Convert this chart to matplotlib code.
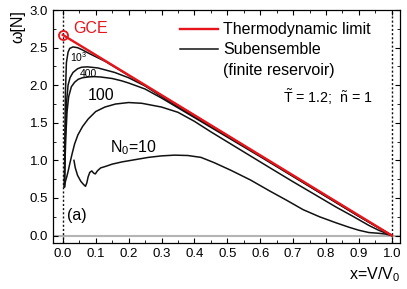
import matplotlib
matplotlib.use("Agg")
import matplotlib.pyplot as plt
from matplotlib.lines import Line2D
from matplotlib.ticker import MultipleLocator

RED = "#e8141b"; INK = "#111111"; GREY = "#b4b4b4"

plt.rcParams.update({
    "font.family": "Liberation Sans", "mathtext.fontset": "custom",
    "mathtext.rm": "Liberation Sans", "mathtext.it": "Liberation Sans",
    "font.size": 9.5, "axes.linewidth": 0.9,
    "xtick.direction": "in", "ytick.direction": "in",
    "xtick.top": True, "ytick.right": True,
    "xtick.major.size": 3.5, "ytick.major.size": 3.5,
    "xtick.minor.size": 2, "ytick.minor.size": 2,
    "xtick.minor.visible": True, "ytick.minor.visible": True,
})

# thermodynamic limit (straight line from the GCE point to x = 1)
x_td = [0.0, 1.0]
w_td = [2.67, 0.0]

# subensemble curves
x_top = [0.005, 0.006, 0.008, 0.011, 0.016, 0.021, 0.031, 0.045, 0.06, 0.077, 0.1, 0.128,
         0.2, 0.4, 0.6, 0.8, 0.9, 1.0]
w_top = [0.65, 1.2, 1.9, 2.3, 2.44, 2.49, 2.51, 2.50, 2.47, 2.43, 2.38, 2.32,
         2.13, 1.60, 1.06, 0.53, 0.26, 0.0]

x_1e3 = [0.005, 0.006, 0.009, 0.012, 0.016, 0.022, 0.031, 0.045, 0.057, 0.075, 0.107, 0.158,
         0.2, 0.25, 0.3, 0.4, 0.5, 0.6, 0.8, 0.9, 1.0]
w_1e3 = [0.65, 0.9, 1.5, 1.8, 2.0, 2.1, 2.17, 2.22, 2.24, 2.245, 2.23, 2.17,
         2.1, 1.99, 1.85, 1.58, 1.32, 1.06, 0.52, 0.255, 0.0]

x_400 = [0.005, 0.006, 0.009, 0.013, 0.018, 0.026, 0.036, 0.047, 0.06, 0.077, 0.095, 0.115,
         0.15, 0.178, 0.2, 0.25, 0.3, 0.4, 0.5, 0.6, 0.8, 0.9, 1.0]
w_400 = [0.65, 0.85, 1.3, 1.65, 1.85, 1.98, 2.04, 2.08, 2.1, 2.11, 2.115, 2.11,
         2.09, 2.06, 2.03, 1.95, 1.83, 1.57, 1.31, 1.05, 0.52, 0.255, 0.0]

x_100 = [0.005, 0.008, 0.012, 0.016, 0.022, 0.029, 0.036, 0.046, 0.06, 0.077, 0.1, 0.128,
         0.16, 0.2, 0.24, 0.3, 0.35, 0.4, 0.45, 0.51, 0.57, 0.63, 0.7, 0.77, 0.83, 0.88,
         0.93, 0.96, 0.98, 1.0]
w_100 = [0.65, 0.72, 0.78, 0.85, 0.97, 1.1, 1.22, 1.34, 1.45, 1.55, 1.65, 1.71,
         1.75, 1.77, 1.76, 1.71, 1.64, 1.52, 1.38, 1.22, 1.06, 0.90, 0.715, 0.535, 0.38, 0.26,
         0.135, 0.07, 0.035, 0.0]

x_10 = [0.034, 0.038, 0.045, 0.055, 0.063, 0.069, 0.073, 0.077, 0.082, 0.088, 0.094, 0.099,
        0.105, 0.115, 0.13, 0.15, 0.18, 0.22, 0.26, 0.30, 0.34, 0.38, 0.42, 0.46, 0.51,
        0.57, 0.63, 0.68, 0.73, 0.78, 0.83, 0.87, 0.90, 0.93, 0.96, 0.98, 1.0]
w_10 = [1.00, 0.90, 0.80, 0.72, 0.68, 0.655, 0.70, 0.78, 0.84, 0.86, 0.83, 0.82,
        0.86, 0.90, 0.92, 0.95, 0.98, 1.01, 1.04, 1.06, 1.07, 1.065, 1.04, 0.97, 0.87,
        0.74, 0.59, 0.47, 0.345, 0.25, 0.17, 0.11, 0.07, 0.04, 0.03, 0.02, 0.0]

fig = plt.figure(figsize=(4.07, 2.89), dpi=100)
ax = fig.add_axes([0.130, 0.159, 0.853, 0.806])

ax.axhline(0, color=GREY, lw=1.5, zorder=1)
for xv in (0.0, 1.0):
    ax.axvline(xv, color=INK, lw=1.0, ls=(0, (1.5, 1.5)), zorder=1)

for xs, ws in ((x_top, w_top), (x_1e3, w_1e3), (x_400, w_400), (x_100, w_100), (x_10, w_10)):
    ax.plot(xs, ws, color=INK, lw=1.1, zorder=2)
ax.plot(x_td, w_td, color=RED, lw=1.7, zorder=3)
ax.plot(x_td[:1], w_td[:1], "o", mfc="none", mec=RED, mew=1.3, ms=6.5, zorder=4)

ax.text(0.032, 2.76, "GCE", color=RED, fontsize=11.5, va="center", ha="left")
ax.text(0.022, 2.37, "10$^3$", fontsize=7.5, va="center")
ax.text(0.052, 2.15, "400", fontsize=7.5, va="center")
ax.text(0.075, 1.87, "100", fontsize=11.5, va="center")
ax.text(0.143, 1.17, "N$_0$=10", fontsize=11.5, va="center")
ax.text(0.012, 0.26, "(a)", fontsize=11.5, va="center")
ax.text(0.67, 1.84, r"$\tilde{\rm T}$ = 1.2;  $\tilde{\rm n}$ = 1", fontsize=10.3, va="center")

handles = [Line2D([], [], color=RED, lw=1.7), Line2D([], [], color=INK, lw=1.1),
           Line2D([], [], color="none")]
ax.legend(handles, ["Thermodynamic limit", "Subensemble", "(finite reservoir)"],
          loc="upper left", bbox_to_anchor=(0.366, 0.948), frameon=False, fontsize=11.5,
          handlelength=2.4, handletextpad=0.3, labelspacing=0.33, borderpad=0, borderaxespad=0)

ax.set_xlim(-0.03, 1.025)
ax.set_ylim(-0.1, 3.0)
ax.xaxis.set_minor_locator(MultipleLocator(0.05))
ax.yaxis.set_major_locator(MultipleLocator(0.5))
ax.yaxis.set_minor_locator(MultipleLocator(0.25))
ax.set_xticks([i / 10 for i in range(11)])
ax.set_xticklabels([f"{i / 10:.1f}" for i in range(11)])
ax.set_ylabel("ω[N]", fontsize=11.5, loc="top", labelpad=3)
ax.set_xlabel("x=V/V$_0$", fontsize=11.5, loc="right", labelpad=4)

fig.savefig("out.png", dpi=100)
